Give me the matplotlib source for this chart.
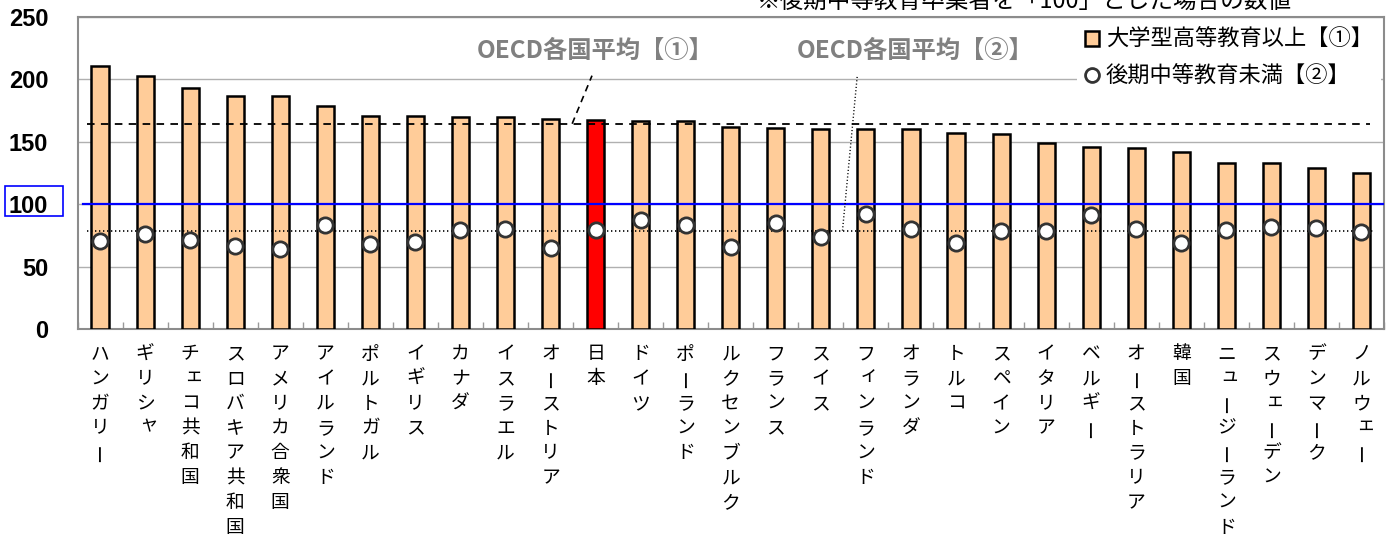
import matplotlib
matplotlib.use('Agg')
import matplotlib.pyplot as plt
from matplotlib.patches import Patch, Rectangle
from matplotlib.lines import Line2D
import numpy as np

# ---------------- data ----------------
countries = ['ハンガリー', 'ギリシャ', 'チェコ共和国', 'スロバキア共和国', 'アメリカ合衆国',
             'アイルランド', 'ポルトガル', 'イギリス', 'カナダ', 'イスラエル', 'オーストリア',
             '日本', 'ドイツ', 'ポーランド', 'ルクセンブルク', 'フランス', 'スイス',
             'フィンランド', 'オランダ', 'トルコ', 'スペイン', 'イタリア', 'ベルギー',
             'オーストラリア', '韓国', 'ニュージーランド', 'スウェーデン', 'デンマーク', 'ノルウェー']
tertiary = [211, 203, 193, 187, 187, 179, 171, 170.5, 170, 169.5, 168.5,
            167.5, 167, 167, 161.5, 161, 160, 160, 160, 157, 156,
            149, 146, 145, 142, 133, 133, 129, 125]
below_upper = [70.5, 76, 71, 66.5, 64, 83, 68, 70, 79.5, 80, 65,
               79.5, 87, 83, 65.5, 85, 73.5, 92.5, 80.5, 69, 78.5,
               78.5, 91.5, 80, 69, 79, 82, 81, 77.5]
oecd_avg_tertiary = 164.5
oecd_avg_below = 78.8
yticks = [0, 50, 100, 150, 200, 250]
legend_labels = ['大学型高等教育以上【①】', '後期中等教育未満【②】']
avg_labels = ['OECD各国平均【①】', 'OECD各国平均【②】']
note = '※後期中等教育卒業者を「100」とした場合の数値'
highlight = '日本'

JP = ['Noto Sans CJK JP', 'DejaVu Sans']
NUM = ['Liberation Sans', 'DejaVu Sans']

W, H = 1397, 535
fig = plt.figure(figsize=(W / 100, H / 100), dpi=100)
L, R, T, B = 77.5, 1384, 17, 329
ax = fig.add_axes([L / W, 1 - B / H, (R - L) / W, (B - T) / H])

n = len(countries)
x = np.arange(n)
colors = ['#FF0000' if c == highlight else '#FFCC99' for c in countries]

ax.bar(x, tertiary, width=0.38, color=colors, edgecolor='black', linewidth=1.8, zorder=3)
ax.axhline(100, xmin=5.5 / (R - L), xmax=1, color='#0000FF', lw=1.6, zorder=4)
ax.axhline(oecd_avg_tertiary, xmin=0.0073, xmax=0.989, color='black', lw=1.3,
           dashes=(4.2, 3.5), zorder=4)
ax.axhline(oecd_avg_below, xmin=0.0073, xmax=0.993, color='black', lw=1.2,
           linestyle=(0, (0.8, 1.6)), zorder=4)
ax.plot(x, below_upper, linestyle='none', marker='o', ms=11, mfc='white',
        mec='#333333', mew=2, zorder=5)

# leader lines for the average labels
ax.plot([10.48, 10.92], [oecd_avg_tertiary, 203], color='black', lw=1.2,
        dashes=(4, 3), zorder=4)
ax.plot([16.48, 16.81], [oecd_avg_below, 203.5], color='black', lw=1.0,
        linestyle=(0, (0.8, 1.6)), zorder=4)

ax.text(11.0, 222.5, avg_labels[0], ha='center', va='center', color='#808080',
        fontsize=17.5, fontweight='bold', family=JP, zorder=6)
ax.text(18.1, 222.5, avg_labels[1], ha='center', va='center', color='#808080',
        fontsize=17.5, fontweight='bold', family=JP, zorder=6)

ax.set_xlim(-0.5, n - 0.5)
ax.set_ylim(0, 250)
ax.set_yticks(yticks)
ax.set_yticklabels([str(v) for v in yticks], fontsize=17, fontweight='bold', family=NUM)
ax.tick_params(axis='y', length=0, pad=21)
ax.yaxis.grid(True, color='#b0b0b0', lw=1.0, zorder=0)
ax.set_axisbelow(True)
ax.set_xticks([])
ax.set_xticks(np.arange(-0.5, n), minor=True)
ax.tick_params(axis='x', which='minor', direction='in', length=5, color='#999999', width=1)
for s in ax.spines.values():
    s.set_color('#8c8c8c')
    s.set_linewidth(1.5)

# vertical (tategaki) category labels
small = set('ャュョェィッァォ')
for i, name in enumerate(countries):
    for j, ch in enumerate(name):
        dx, dy = (2.5, 2.5) if ch in small else (0, 0)
        ax.annotate(ch, xy=(i, 0), xycoords=('data', 'axes fraction'),
                    xytext=(dx, -(18 + j * 17.8) + dy), textcoords='offset points',
                    ha='center', va='center', rotation=90 if ch == 'ー' else 0,
                    fontsize=13.5, family=JP, annotation_clip=False)

# legend
handles = [Patch(facecolor='#FFCC99', edgecolor='black', lw=1.8),
           Line2D([], [], linestyle='none', marker='o', ms=10, mfc='white',
                  mec='#333333', mew=2)]
leg = ax.legend(handles, legend_labels, loc='upper right', frameon=True, fancybox=False,
                edgecolor='none', facecolor='white', framealpha=1,
                prop={'family': JP, 'size': 16}, handlelength=0.65, handleheight=0.65,
                handletextpad=0.3, labelspacing=0.6, borderaxespad=0.15, borderpad=0.35)
leg.set_zorder(7)

# blue box around the "100" tick label
fig.patches.append(Rectangle((5 / W, 1 - 216 / H), 58 / W, 30 / H, transform=fig.transFigure,
                             fill=False, edgecolor='#0000FF', lw=1.2))

fig.text(757 / W, 1.0 - 1.5 / H, note, ha='left', va='center', fontsize=17, family=JP)

fig.savefig('out.png', dpi=100)
